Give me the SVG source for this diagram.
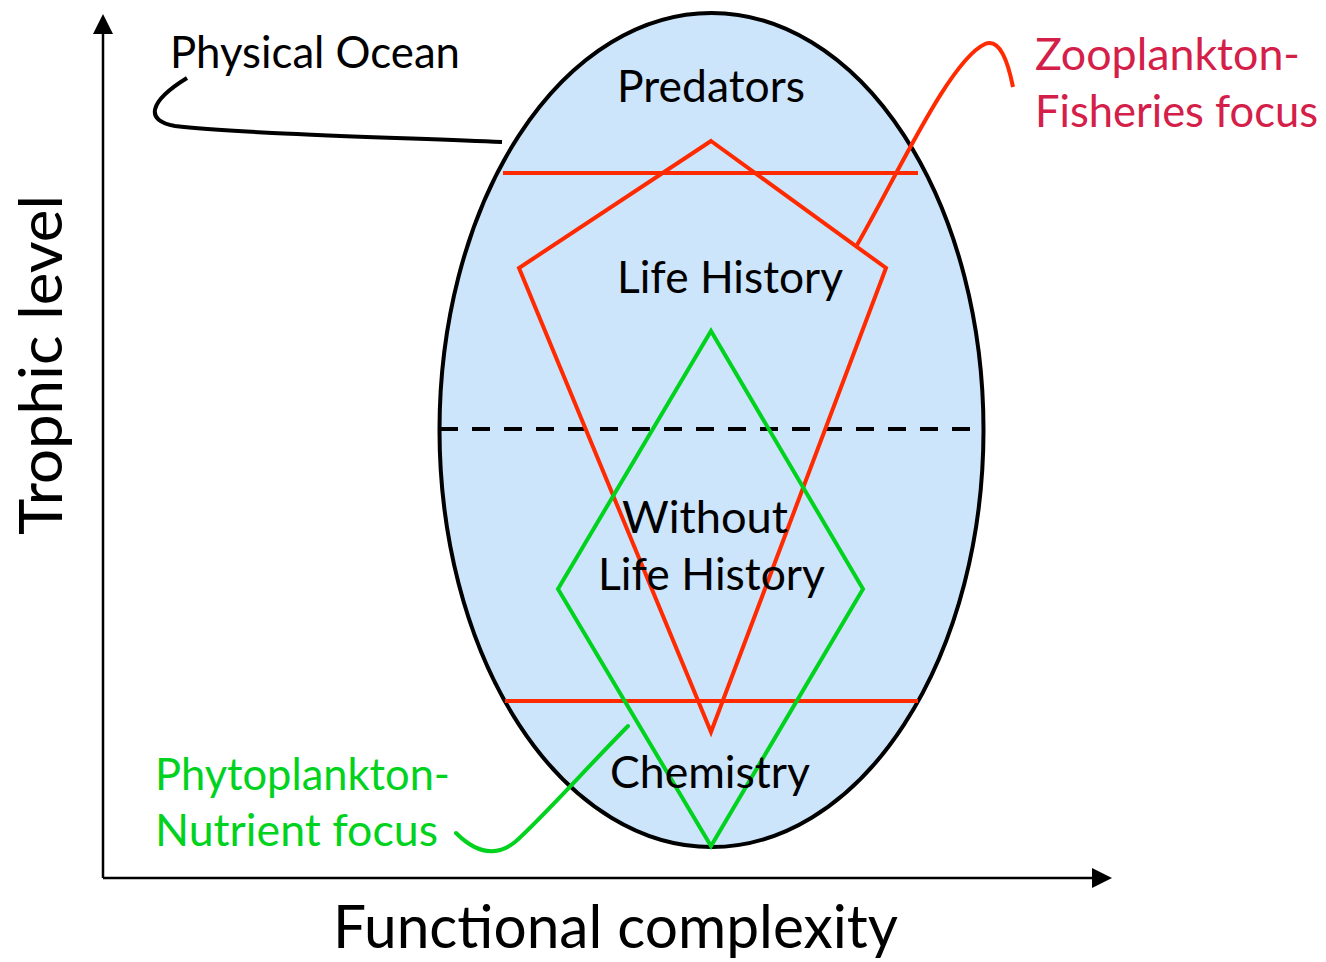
<svg xmlns="http://www.w3.org/2000/svg" width="1326" height="962" viewBox="0 0 1326 962">
<style>
text{font-family:Lato,"Open Sans","Liberation Sans",sans-serif;}
.lbl{font-size:45px;fill:#000;}
.red{fill:none;stroke:#ff2a00;stroke-width:4;stroke-linejoin:miter;}
.grn{fill:none;stroke:#00d21e;stroke-width:4;}
.ax{stroke:#000;stroke-width:2.5;fill:none;}
</style>
<defs>
<marker id="ah" viewBox="0 0 20 20" refX="0" refY="10" markerWidth="20" markerHeight="20" markerUnits="userSpaceOnUse" orient="auto">
<path d="M0,0 L20,10 L0,20 Z" fill="#000"/>
</marker>
</defs>
<rect width="1326" height="962" fill="#fff"/>
<g id="axes">
<line class="ax" x1="103" y1="878" x2="103" y2="34" marker-end="url(#ah)"/>
<line class="ax" x1="103" y1="878" x2="1092" y2="878" marker-end="url(#ah)"/>
<text id="ylabel" font-size="60" transform="translate(62,535) rotate(-90)" textLength="340" lengthAdjust="spacingAndGlyphs">Trophic level</text>
<text id="xlabel" x="333" y="948" font-size="60" textLength="565" lengthAdjust="spacingAndGlyphs">Functional complexity</text>
</g>
<g id="ocean">
<ellipse cx="711.5" cy="430" rx="272" ry="417" fill="#cce5fb" stroke="#000" stroke-width="4"/>
</g>
<g id="divider">
<line x1="440" y1="429" x2="984" y2="429" stroke="#000" stroke-width="4" stroke-dasharray="18,14"/>
</g>
<g id="zoo-shape">
<line class="red" x1="503" y1="173" x2="918" y2="173"/>
<line class="red" x1="505" y1="701" x2="918" y2="701"/>
<polygon class="red" points="711,141 886,268 711,732 519,268"/>
</g>
<g id="phyto-shape">
<polygon class="grn" points="711,331 863,589 711,846 558,589"/>
</g>
<g id="connectors">
<path d="M502,142 C380,137 230,133 175,126 C145,121 148,102 187,78" fill="none" stroke="#000" stroke-width="4"/>
<path d="M857,245 C900,170 950,60 985,44 C1000,38 1008,62 1013,87" fill="none" stroke="#ff2a00" stroke-width="4"/>
<path d="M628,726 C580,775 540,820 515,842 C495,858 475,852 456,833" fill="none" stroke="#00d21e" stroke-width="4" stroke-linecap="round"/>
</g>
<g id="predators"><text class="lbl" x="617" y="102" textLength="188" lengthAdjust="spacingAndGlyphs">Predators</text></g>
<g id="life-history"><text class="lbl" x="617" y="293" textLength="226" lengthAdjust="spacingAndGlyphs">Life History</text></g>
<g id="without-life-history">
<text class="lbl" x="622" y="533" textLength="166" lengthAdjust="spacingAndGlyphs">Without</text>
<text class="lbl" x="598" y="590" textLength="227" lengthAdjust="spacingAndGlyphs">Life History</text>
</g>
<g id="chemistry"><text class="lbl" x="610" y="788" textLength="200" lengthAdjust="spacingAndGlyphs">Chemistry</text></g>
<g id="physical-ocean"><text class="lbl" x="170" y="68" textLength="290" lengthAdjust="spacingAndGlyphs">Physical Ocean</text></g>
<g id="zoo-label">
<text class="lbl" style="fill:#d42049" x="1035" y="70" textLength="265" lengthAdjust="spacingAndGlyphs">Zooplankton-</text>
<text class="lbl" style="fill:#d42049" x="1035" y="127" textLength="283" lengthAdjust="spacingAndGlyphs">Fisheries focus</text>
</g>
<g id="phyto-label">
<text class="lbl" style="fill:#00d21e" x="155" y="790" textLength="295" lengthAdjust="spacingAndGlyphs">Phytoplankton-</text>
<text class="lbl" style="fill:#00d21e" x="155" y="846" textLength="283" lengthAdjust="spacingAndGlyphs">Nutrient focus</text>
</g>
</svg>
